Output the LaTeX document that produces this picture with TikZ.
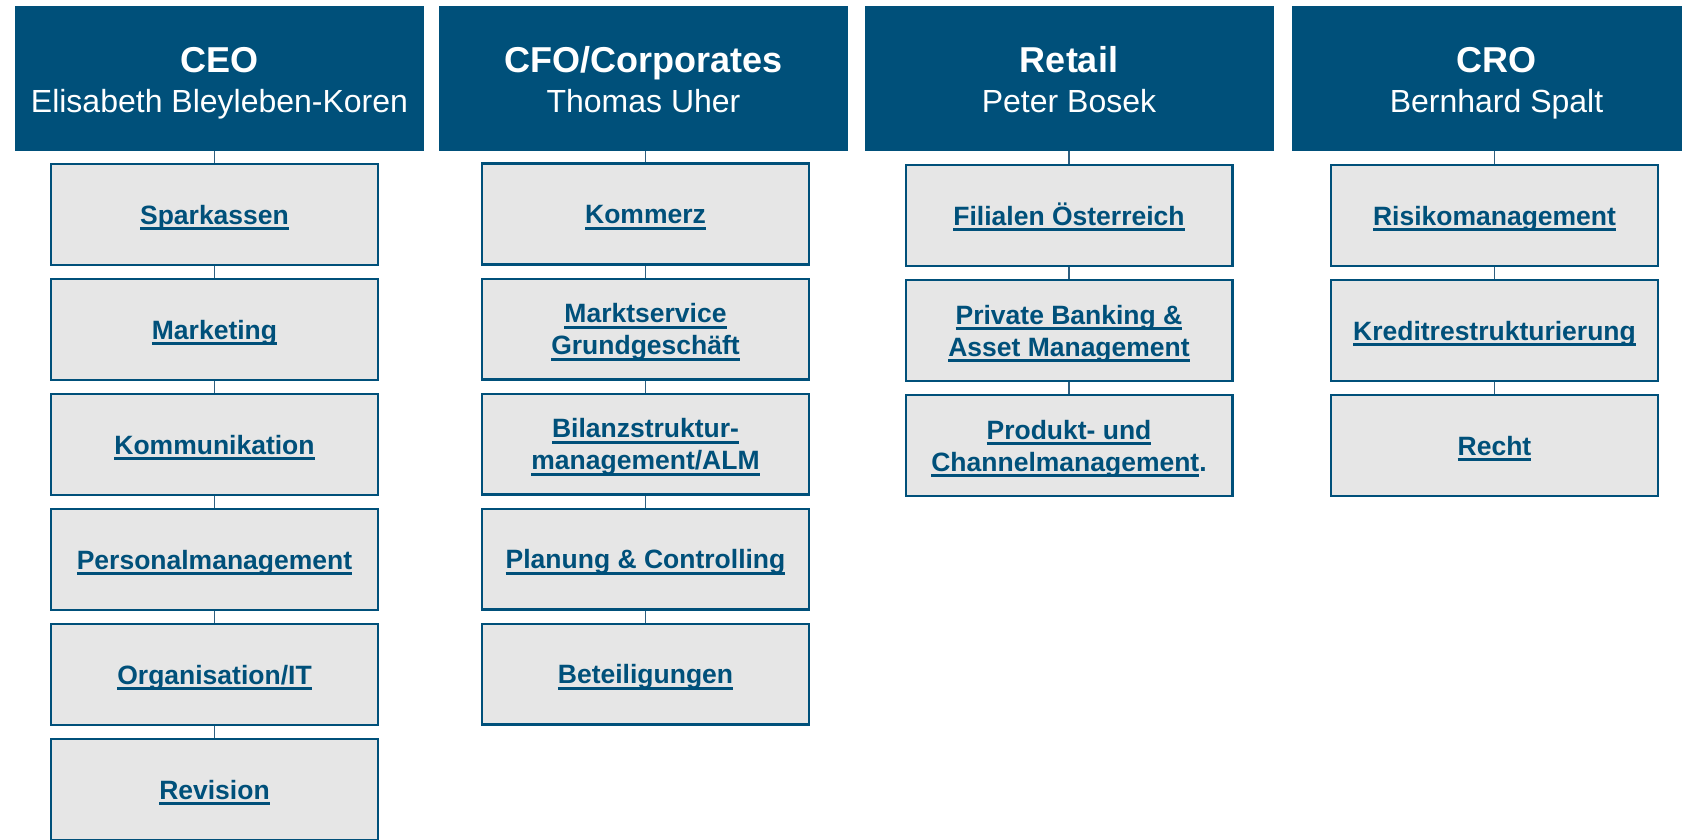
\documentclass[tikz,border=0pt]{standalone}
\usepackage{fontspec}
\setmainfont{Liberation Sans}
\usepackage{xcolor}
\usepackage{tikz}
\usetikzlibrary{positioning}

\definecolor{boardblue}{HTML}{00507A}
\definecolor{unitgray}{HTML}{E6E6E6}
\definecolor{linkblue}{HTML}{2E5F80}

\newsavebox\lnkbox
\newcommand{\lnk}[1]{\sbox\lnkbox{#1}\rlap{\rule[-6pt]{\wd\lnkbox}{2.8pt}}\usebox\lnkbox}

\begin{document}
\begin{tikzpicture}[
    x=1pt, y=-1pt,
    node distance=12pt,
    board/.style={fill=boardblue, text=white, minimum width=409pt, minimum height=145pt,
        inner sep=0pt, align=center, text height=69pt, text depth=0pt,
        font=\fontsize{32}{40}\selectfont},
    unit/.style={draw=boardblue, fill=unitgray, line width=2.3pt, text=boardblue,
        minimum width=326.7pt, minimum height=100.7pt, inner sep=0pt, align=center,
        text height=19pt, text depth=0pt, font=\fontsize{26.5}{32}\selectfont\bfseries},
    twoline/.style={text height=51pt},
    link/.style={draw=linkblue, line width=1.5pt}
]
\clip (0,0) rectangle (1682,840);

% Vorstand
\node[board] (ceo)    at (219.5,78.5) {{\bfseries\fontsize{36}{40}\selectfont CEO}\\Elisabeth Bleyleben-Koren};
\node[board] (cfo)    at (643.5,78.5) {{\bfseries\fontsize{36}{40}\selectfont CFO/Corporates}\\Thomas Uher};
\node[board] (retail) at (1069,78.5)  {{\bfseries\fontsize{36}{40}\selectfont Retail}\\Peter Bosek};
\node[board] (cro)    at (1496.5,78.5) {{\bfseries\fontsize{36}{40}\selectfont CRO}\\Bernhard Spalt};

% CEO
\node[unit] (spk) at (214.5,214.5) {\lnk{Sparkassen}};
\node[unit, below=of spk] (mkt) {\lnk{Marketing}};
\node[unit, below=of mkt] (komm) {\lnk{Kommunikation}};
\node[unit, below=of komm] (pers) {\lnk{Personalmanagement}};
\node[unit, below=of pers] (orgit) {\lnk{Organisation/IT}};
\node[unit, below=of orgit] (rev) {\lnk{Revision}};

% CFO/Corporates
\node[unit] (kom) at (645.5,214) {\lnk{Kommerz}};
\node[unit, twoline, below=of kom] (msv) {\lnk{Marktservice}\\\lnk{Grundgeschäft}};
\node[unit, twoline, below=of msv] (alm) {\lnk{Bilanzstruktur-}\\\lnk{management/ALM}};
\node[unit, below=of alm] (plan) {\lnk{Planung \& Controlling}};
\node[unit, below=of plan] (bet) {\lnk{Beteiligungen}};

% Retail
\node[unit] (fil) at (1069,215.5) {\lnk{Filialen Österreich}};
\node[unit, twoline, below=of fil] (pbam) {\lnk{Private Banking \&}\\\lnk{Asset Management}};
\node[unit, twoline, below=of pbam] (prod) {\lnk{Produkt- und}\\\lnk{Channelmanagement}.};

% CRO
\node[unit] (risk) at (1494.5,215.5) {\lnk{Risikomanagement}};
\node[unit, below=of risk] (kred) {\lnk{Kreditrestrukturierung}};
\node[unit, below=of kred] (recht) {\lnk{Recht}};

% Linien
\draw[link] (spk.north |- ceo.south) -- (spk.north);
\draw[link] (spk.south) -- (mkt.north);
\draw[link] (mkt.south) -- (komm.north);
\draw[link] (komm.south) -- (pers.north);
\draw[link] (pers.south) -- (orgit.north);
\draw[link] (orgit.south) -- (rev.north);

\draw[link] (kom.north |- cfo.south) -- (kom.north);
\draw[link] (kom.south) -- (msv.north);
\draw[link] (msv.south) -- (alm.north);
\draw[link] (alm.south) -- (plan.north);
\draw[link] (plan.south) -- (bet.north);

\draw[link] (fil.north |- retail.south) -- (fil.north);
\draw[link] (fil.south) -- (pbam.north);
\draw[link] (pbam.south) -- (prod.north);

\draw[link] (risk.north |- cro.south) -- (risk.north);
\draw[link] (risk.south) -- (kred.north);
\draw[link] (kred.south) -- (recht.north);

\end{tikzpicture}
\end{document}
